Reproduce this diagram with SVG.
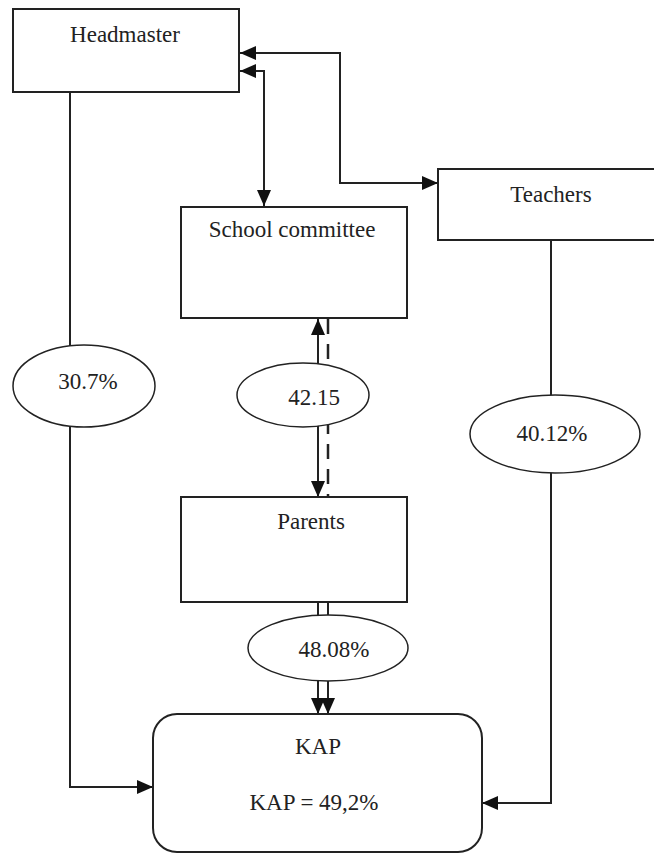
<svg xmlns="http://www.w3.org/2000/svg" width="654" height="854" viewBox="0 0 654 854">
<style>
.box{fill:#fff;stroke:#222;stroke-width:2}
.ell{fill:#fff;stroke:#222;stroke-width:1.5}
.t{font-family:'Liberation Serif',serif;font-size:23px;fill:#222;text-anchor:middle}
.c{fill:none;stroke:#222;stroke-width:2}
.d{fill:none;stroke:#222;stroke-width:2.5;stroke-dasharray:15 10}
</style>
<defs>
<marker id="a" markerWidth="16" markerHeight="14" refX="16" refY="7" orient="auto" markerUnits="userSpaceOnUse">
<path d="M0,0 L16,7 L0,14 Z" fill="#111"/>
</marker>
<marker id="as" markerWidth="16" markerHeight="14" refX="16" refY="7" orient="auto-start-reverse" markerUnits="userSpaceOnUse">
<path d="M0,0 L16,7 L0,14 Z" fill="#111"/>
</marker>
</defs>
<g id="connectors">
<polyline class="c" points="70,92 70,787 153,787" marker-end="url(#a)"/>
<polyline class="c" points="551,240 551,803 482,803" marker-end="url(#a)"/>
<polyline class="c" points="240,53 340,53 340,183 438,183" marker-start="url(#as)" marker-end="url(#a)"/>
<polyline class="c" points="240,71 264,71 264,206" marker-start="url(#as)" marker-end="url(#a)"/>
<line class="c" x1="318" y1="365" x2="318" y2="319" marker-end="url(#a)"/>
<line class="c" x1="318" y1="425" x2="318" y2="497" marker-end="url(#a)"/>
<line class="d" x1="328" y1="319" x2="328" y2="497"/>
<line class="c" x1="318" y1="602" x2="318" y2="714" marker-end="url(#a)"/>
<line class="c" x1="328" y1="602" x2="328" y2="714" marker-end="url(#a)"/>
</g>
<g id="headmaster">
<rect class="box" x="13" y="9" width="226" height="83"/>
<text class="t" x="125" y="42" font-family="Liberation Serif">Headmaster</text>
</g>
<g id="teachers">
<rect class="box" x="438" y="169" width="230" height="71"/>
<text class="t" x="551" y="202" font-family="Liberation Serif">Teachers</text>
</g>
<g id="school-committee">
<rect class="box" x="181" y="207" width="226" height="111"/>
<text class="t" x="292" y="237" font-family="Liberation Serif">School committee</text>
</g>
<g id="parents">
<rect class="box" x="181" y="497" width="226" height="105"/>
<text class="t" x="311" y="529" font-family="Liberation Serif">Parents</text>
</g>
<g id="kap">
<rect class="box" x="153" y="714" width="329" height="138" rx="24" ry="24"/>
<text class="t" x="318" y="754" font-family="Liberation Serif">KAP</text>
<text class="t" x="314" y="810" font-family="Liberation Serif">KAP = 49,2%</text>
</g>
<g id="e-30-7">
<ellipse class="ell" cx="84" cy="386" rx="71" ry="41"/>
<text class="t" x="88" y="389" font-family="Liberation Serif">30.7%</text>
</g>
<g id="e-42-15">
<ellipse class="ell" cx="303" cy="395" rx="66" ry="32"/>
<text class="t" x="314" y="405" font-family="Liberation Serif">42.15</text>
</g>
<g id="e-40-12">
<ellipse class="ell" cx="555" cy="434" rx="85" ry="39"/>
<text class="t" x="552" y="441" font-family="Liberation Serif">40.12%</text>
</g>
<g id="e-48-08">
<ellipse class="ell" cx="328" cy="648" rx="80" ry="33"/>
<text class="t" x="334" y="657" font-family="Liberation Serif">48.08%</text>
</g>
</svg>
